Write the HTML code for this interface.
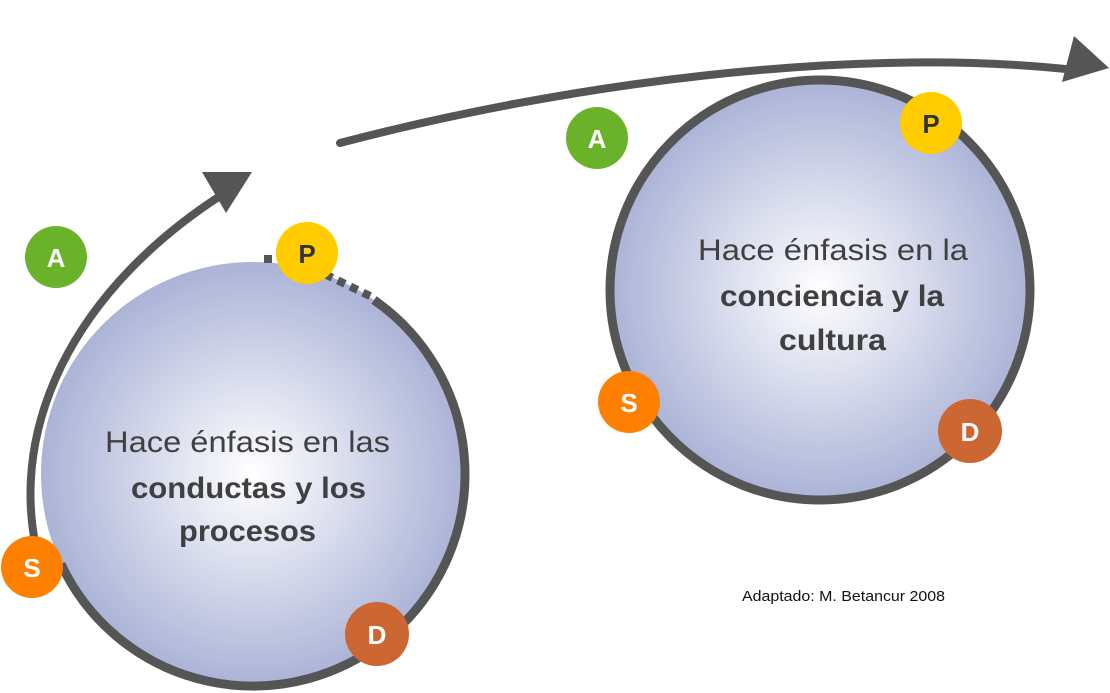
<!DOCTYPE html>
<html><head><meta charset="utf-8"><style>
html,body{margin:0;padding:0;background:#fff;width:1110px;height:693px;overflow:hidden}
svg{display:block}
text{font-family:"Liberation Sans",sans-serif}
</style></head><body>
<svg width="1110" height="693" viewBox="0 0 1110 693">
<defs>
<radialGradient id="g" cx="50%" cy="50%" r="50%">
<stop offset="0" stop-color="#ffffff"/>
<stop offset="1" stop-color="#abb3d7"/>
</radialGradient>
</defs>
<!-- left circle -->
<circle cx="253" cy="474" r="212" fill="url(#g)"/>
<path d="M 374 300 A 212 212 0 1 1 61 564" fill="none" stroke="#555" stroke-width="9"/>
<path d="M 300 262 L 374 298" fill="none" stroke="#555" stroke-width="8" stroke-dasharray="8 6"/>
<rect x="264" y="255" width="8" height="8" fill="#555"/>
<!-- left outer arrow -->
<path d="M 45 580 C 0 450, 60 300, 220 196" fill="none" stroke="#555" stroke-width="8"/>
<polygon points="202,172 252,172 226,213" fill="#555"/>
<!-- right circle -->
<circle cx="820" cy="290" r="210" fill="url(#g)" stroke="#555" stroke-width="9"/>
<!-- big arrow -->
<path d="M 340 143 C 560 85, 850 45, 1075 70" fill="none" stroke="#555" stroke-width="8" stroke-linecap="round"/>
<polygon points="1074,36 1109,68 1062,82" fill="#555"/>
<!-- texts -->
<g fill="#404040" text-anchor="start">
<text x="105" y="452" font-size="30" textLength="285" lengthAdjust="spacingAndGlyphs">Hace énfasis en las</text>
<text x="131" y="498" font-size="30" font-weight="bold" textLength="235" lengthAdjust="spacingAndGlyphs">conductas y los</text>
<text x="179" y="541" font-size="30" font-weight="bold" textLength="137" lengthAdjust="spacingAndGlyphs">procesos</text>
<text x="698" y="260" font-size="30" textLength="270" lengthAdjust="spacingAndGlyphs">Hace énfasis en la</text>
<text x="720" y="306" font-size="30" font-weight="bold" textLength="224" lengthAdjust="spacingAndGlyphs">conciencia y la</text>
<text x="779" y="350" font-size="30" font-weight="bold" textLength="107" lengthAdjust="spacingAndGlyphs">cultura</text>
</g>
<text x="742" y="601" font-size="15" fill="#111" textLength="203" lengthAdjust="spacingAndGlyphs">Adaptado: M. Betancur 2008</text>
<!-- badges -->
<g font-size="26" font-weight="bold" text-anchor="middle">
<circle cx="56" cy="257" r="31" fill="#6ab22a"/><text x="56" y="267" fill="#fff">A</text>
<circle cx="307" cy="253" r="31" fill="#ffcc00"/><text x="307" y="263" fill="#333">P</text>
<circle cx="32" cy="567" r="31" fill="#ff8000"/><text x="32" y="577" fill="#fff">S</text>
<circle cx="377" cy="634" r="32" fill="#cc6633"/><text x="377" y="644" fill="#fff">D</text>
<circle cx="597" cy="138" r="31" fill="#6ab22a"/><text x="597" y="148" fill="#fff">A</text>
<circle cx="931" cy="123" r="31" fill="#ffcc00"/><text x="931" y="133" fill="#333">P</text>
<circle cx="629" cy="402" r="31" fill="#ff8000"/><text x="629" y="412" fill="#fff">S</text>
<circle cx="970" cy="431" r="32" fill="#cc6633"/><text x="970" y="441" fill="#fff">D</text>
</g>
</svg>
</body></html>
